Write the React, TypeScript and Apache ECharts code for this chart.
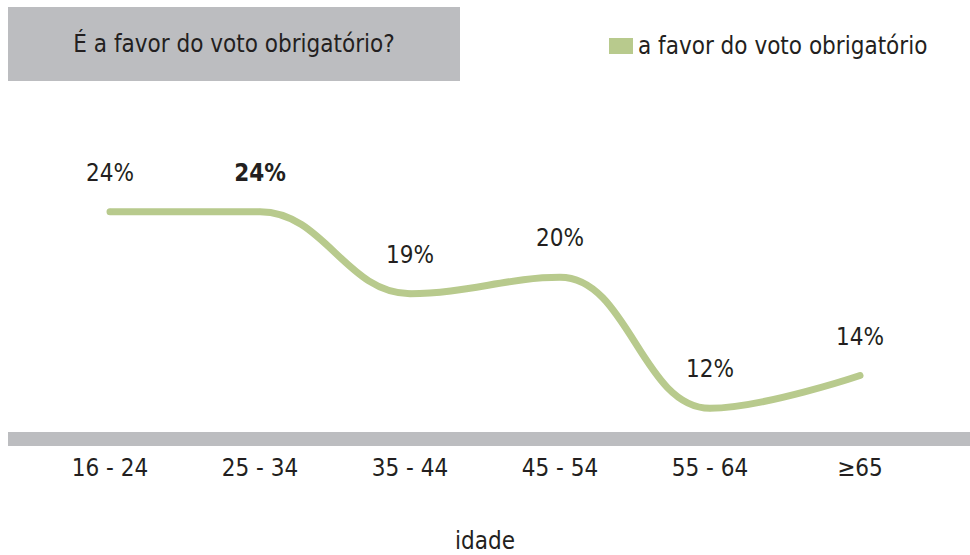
import React, { useEffect, useRef } from "react";
import * as echarts from "echarts";

const categories = ["16 - 24", "25 - 34", "35 - 44", "45 - 54", "55 - 64", "≥65"];
const favorValues = [24, 24, 19, 20, 12, 14];
const seriesName = "a favor do voto obrigatório";
const titleText = "É a favor do voto obrigatório?";
const axisName = "idade";

const FONT = "'Liberation Sans Narrow', 'DejaVu Sans Condensed', 'Liberation Sans', sans-serif";
const GREEN = "#b8ca8d";
const GRAY = "#bcbdc0";
const TEXT = "#231f20";

export default function App() {
  const ref = useRef<HTMLDivElement>(null);
  useEffect(() => {
    document.body.style.margin = "0";
    if (!ref.current) return;
    const chart = echarts.init(ref.current, null, { renderer: "svg" });
    chart.setOption({
      animation: false,
      backgroundColor: "#ffffff",
      textStyle: { fontFamily: FONT, color: TEXT },
      graphic: [
        { type: "rect", left: 8, top: 7, shape: { width: 452, height: 74 }, style: { fill: GRAY } },
        {
          type: "text",
          x: 234,
          y: 44,
          style: { text: titleText, font: `24px ${FONT}`, fill: TEXT, align: "center", verticalAlign: "middle" },
        },
        { type: "rect", left: 8, top: 432, shape: { width: 962, height: 14 }, style: { fill: GRAY }, z: 0 },
      ],
      legend: {
        left: 604,
        top: 29,
        icon: "rect",
        itemWidth: 24,
        itemHeight: 16,
        itemGap: 12,
        itemStyle: { color: GREEN, opacity: 1 },
        textStyle: { fontFamily: FONT, fontSize: 24, color: TEXT },
        data: [seriesName],
      },
      grid: { left: 35, right: 35, top: 179, bottom: 114 },
      xAxis: {
        type: "category",
        data: categories,
        boundaryGap: true,
        axisLine: { show: false },
        axisTick: { show: false },
        axisLabel: { margin: 15, fontSize: 24, fontFamily: FONT, color: TEXT },
        name: axisName,
        nameLocation: "middle",
        nameGap: 88,
        nameTextStyle: { fontSize: 24, fontFamily: FONT, color: TEXT },
      },
      yAxis: {
        type: "value",
        min: 10,
        max: 26,
        show: false,
        splitLine: { show: false },
      },
      series: [
        {
          name: seriesName,
          type: "line",
          data: favorValues.map((v, i) => (i === 1 ? { value: v, label: { fontWeight: "bold" } } : v)),
          smooth: 0.4,
          symbol: "circle",
          symbolSize: 6,
          showSymbol: true,
          itemStyle: { color: GREEN, borderWidth: 0 },
          color: GREEN,
          lineStyle: { width: 7, color: GREEN, cap: "round" },
          label: {
            show: true,
            position: "top",
            distance: 24,
            formatter: "{c}%",
            fontSize: 24,
            fontFamily: FONT,
            color: TEXT,
          },
        },
      ],
    });
    return () => chart.dispose();
  }, []);
  return <div ref={ref} style={{ width: 970, height: 555 }} />;
}
